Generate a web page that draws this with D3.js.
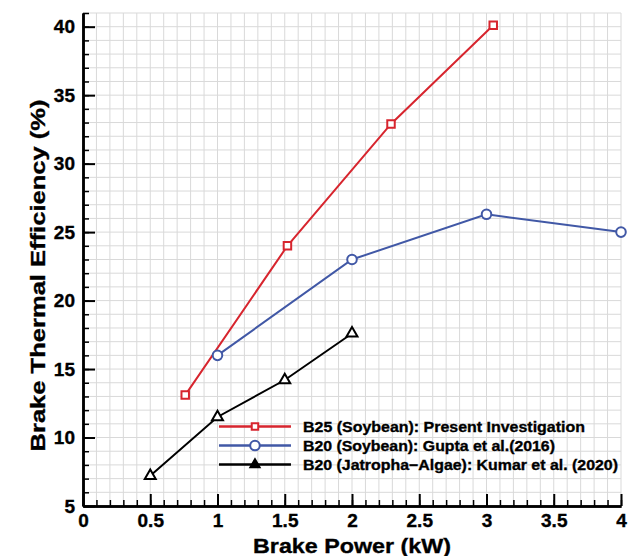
<!DOCTYPE html>
<html>
<head>
<meta charset="utf-8">
<script src="https://cdn.jsdelivr.net/npm/d3@7/dist/d3.min.js"></script>
<style>
  body { margin: 0; background: #fff; }
  text { font-family: "Liberation Sans", Arial, Helvetica, sans-serif; font-weight: bold; stroke: #000; stroke-width: 0.35px; }
</style>
</head>
<body>
<div id="chart"></div>
<script>
// data
const seriesNames = [
  'B25 (Soybean): Present Investigation',
  'B20 (Soybean): Gupta et al.(2016)',
  'B20 (Jatropha\u2212Algae): Kumar et al. (2020)'
];
const b25Power = [0.76, 1.52, 2.29, 3.05];
const b25Eff = [13.1, 24.0, 32.9, 40.1];
const guptaPower = [1, 2, 3, 4];
const guptaEff = [16.0, 23.0, 26.3, 25.0];
const kumarPower = [0.5, 1, 1.5, 2];
const kumarEff = [7.2, 11.5, 14.2, 17.6];
const xTickValues = [0, 0.5, 1, 1.5, 2, 2.5, 3, 3.5, 4];
const yTickValues = [5, 10, 15, 20, 25, 30, 35, 40];

const W = 630, H = 556;
const margin = { top: 13, right: 9, bottom: 50, left: 83 };
const width = W - margin.left - margin.right;
const height = H - margin.top - margin.bottom;

const x = d3.scaleLinear().domain([0, 4]).range([0, width]);
const y = d3.scaleLinear().domain([5, 41]).range([height, 0]);

const colors = ['#d7252e', '#4158a6', '#000000'];
const symbols = [d3.symbolSquare, d3.symbolCircle, d3.symbolTriangle];

const series = [
  { name: seriesNames[0], values: b25Power.map((p, i) => ({ p, e: b25Eff[i] })) },
  { name: seriesNames[1], values: guptaPower.map((p, i) => ({ p, e: guptaEff[i] })) },
  { name: seriesNames[2], values: kumarPower.map((p, i) => ({ p, e: kumarEff[i] })) }
];

const svg = d3.select('#chart').append('svg')
  .attr('width', W).attr('height', H)
  .append('g')
  .attr('transform', `translate(${margin.left},${margin.top})`);

/* grid */
const grid = svg.append('g').attr('class', 'grid');
grid.selectAll('.vg')
  .data(d3.range(1, 41).map(d => d / 10))
  .enter().append('line')
  .attr('x1', d => x(d)).attr('x2', d => x(d))
  .attr('y1', 0).attr('y2', height)
  .attr('stroke', '#d9d9d9').attr('stroke-width', 1);
grid.selectAll('.hg')
  .data(d3.range(6, 42))
  .enter().append('line')
  .attr('x1', 0).attr('x2', width)
  .attr('y1', d => y(d)).attr('y2', d => y(d))
  .attr('stroke', '#d9d9d9').attr('stroke-width', 1);

/* axes */
const xMinor = d3.axisBottom(x).tickValues(d3.range(0, 41).map(d => d / 10)).tickSize(-6).tickSizeOuter(0).tickFormat('');
const yMinor = d3.axisLeft(y).tickValues(d3.range(5, 42)).tickSize(-6).tickSizeOuter(0).tickFormat('');
const xAxis = d3.axisBottom(x).tickValues(xTickValues).tickSize(-12).tickSizeOuter(0).tickPadding(8).tickFormat(d3.format('~g'));
const yAxis = d3.axisLeft(y).tickValues(yTickValues).tickSize(-12).tickSizeOuter(0).tickPadding(8);

function styleAxis(g) {
  g.selectAll('.domain').attr('stroke', '#000').attr('stroke-width', 2.5);
  g.selectAll('.tick line').attr('stroke', '#000').attr('stroke-width', 2);
  g.selectAll('.tick text').attr('fill', '#000').attr('font-size', 19);
}

svg.append('g').attr('transform', `translate(0,${height})`).call(xMinor).call(styleAxis)
  .selectAll('.tick line').attr('stroke-width', 1.5);
svg.append('g').call(yMinor).call(styleAxis)
  .selectAll('.tick line').attr('stroke-width', 1.5);
svg.append('g').attr('class', 'x axis').attr('transform', `translate(0,${height})`).call(xAxis).call(styleAxis);
svg.append('g').attr('class', 'y axis').call(yAxis).call(styleAxis);

/* lines */
const line = d3.line().x(d => x(d.p)).y(d => y(d.e));
svg.append('g').selectAll('path')
  .data(series).enter().append('path')
  .attr('d', d => line(d.values))
  .attr('fill', 'none')
  .attr('stroke', (d, i) => colors[i])
  .attr('stroke-width', 2);

/* markers */
const markerSizes = [56, 72, 52];
series.forEach((s, i) => {
  svg.append('g').selectAll('path')
    .data(s.values).enter().append('path')
    .attr('transform', d => `translate(${x(d.p)},${y(d.e)})`)
    .attr('d', d3.symbol().type(symbols[i]).size(markerSizes[i]))
    .attr('fill', '#fff')
    .attr('stroke', colors[i])
    .attr('stroke-width', 2);
});

/* legend */
const legendWidths = [282, 252, 315];
const legend = svg.append('g').attr('transform', `translate(${x(1.011)},${y(10.8)})`);
series.forEach((s, i) => {
  const g = legend.append('g').attr('transform', `translate(0,${i * 19})`);
  g.append('line').attr('x1', 0).attr('x2', 72).attr('y1', 0).attr('y2', 0)
    .attr('stroke', colors[i]).attr('stroke-width', 2.5);
  g.append('path')
    .attr('transform', 'translate(36,0)')
    .attr('d', d3.symbol().type(symbols[i]).size([42, 72, 36][i]))
    .attr('fill', i === 2 ? '#000' : '#fff')
    .attr('stroke', colors[i]).attr('stroke-width', 2);
  g.append('text').attr('x', 84).attr('y', 0).attr('dy', '0.36em')
    .attr('font-size', 15).attr('fill', '#000')
    .attr('textLength', legendWidths[i]).attr('lengthAdjust', 'spacingAndGlyphs')
    .text(s.name);
});

/* axis titles */
svg.append('text')
  .attr('x', width / 2).attr('y', height + 47)
  .attr('text-anchor', 'middle').attr('font-size', 21)
  .attr('textLength', 198).attr('lengthAdjust', 'spacingAndGlyphs')
  .text('Brake Power (kW)');
svg.append('text')
  .attr('transform', `translate(${-margin.left + 45},${height / 2 + 16}) rotate(-90)`)
  .attr('text-anchor', 'middle').attr('font-size', 21)
  .attr('textLength', 352).attr('lengthAdjust', 'spacingAndGlyphs')
  .text('Brake Thermal Efficiency (%)');
</script>
</body>
</html>
